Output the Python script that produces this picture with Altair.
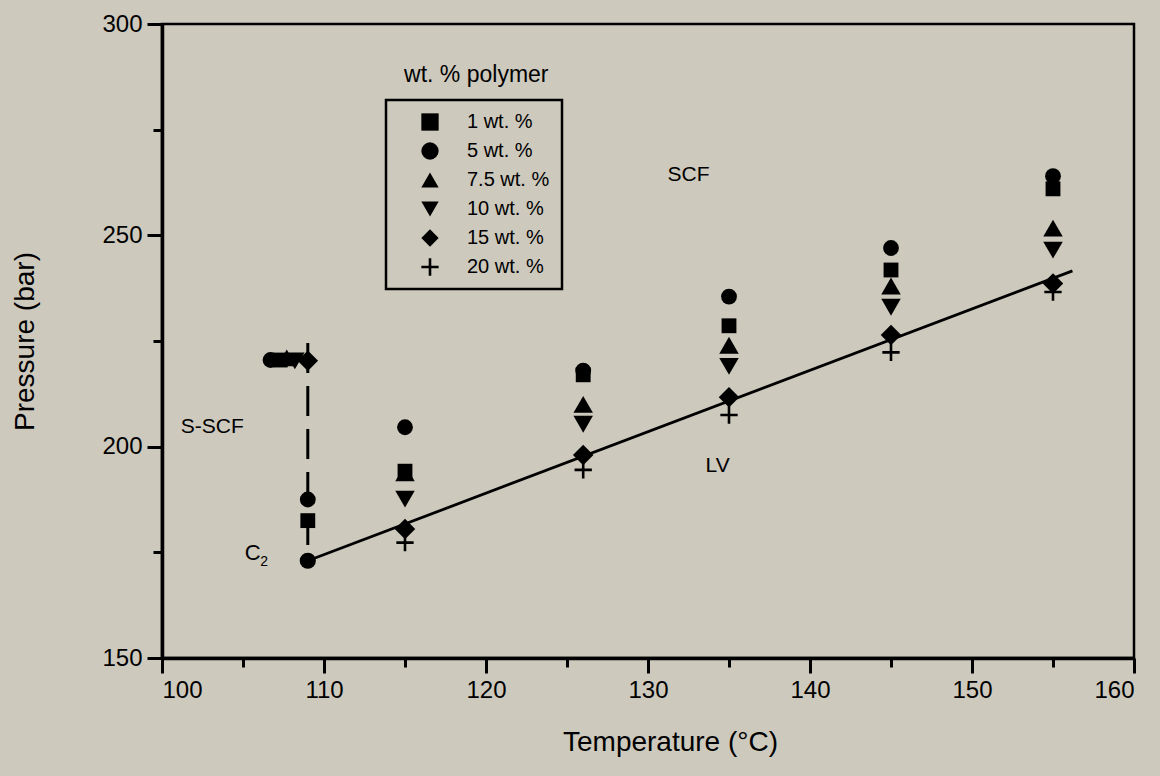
import altair as alt
import pandas as pd

# Cloud-point pressures (bar) vs temperature (°C) for each polymer loading
series_names = ["1 wt. %", "5 wt. %", "7.5 wt. %", "10 wt. %", "15 wt. %", "20 wt. %"]
# thin filled plus for the 20 wt. % series
PLUS = "M-1,-0.15H1V0.15H-1Z M-0.15,-1H0.15V1H-0.15Z"
series_shapes = ["square", "circle", "triangle-up", "triangle-down", "diamond", PLUS]
series_sizes = [220, 250, 380, 380, 420, 300]

t_1 = [107.3, 109, 115, 126, 135, 145, 155]
p_1 = [220.5, 182.5, 194.2, 217.0, 228.6, 241.8, 261.0]

t_5 = [106.7, 109, 115, 126, 135, 145, 155]
p_5 = [220.5, 187.5, 204.6, 218.0, 235.5, 247.0, 264.0]

t_75 = [107.7, 115, 126, 135, 145, 155]
p_75 = [221.0, 193.8, 210.0, 224.0, 238.0, 251.7]

t_10 = [108.2, 115, 126, 135, 145, 155]
p_10 = [220.3, 187.6, 205.3, 219.0, 233.0, 246.5]

t_15 = [109, 115, 126, 135, 145, 155]
p_15 = [220.3, 180.5, 198.0, 211.7, 226.4, 238.6]

t_20 = [115, 126, 135, 145, 155]
p_20 = [177.3, 194.5, 207.5, 222.3, 236.6]

# Critical point C2 and the LV boundary drawn from it
c2_t = [109]
c2_p = [173.0]
lv_t = [109, 156.2]
lv_p = [173.0, 241.6]

# Dashed vertical boundary at 109 °C
dash_t = [109]
dash_p_top = [224.5]
dash_p_bottom = [173.0]

# Region labels
region_text = ["SCF", "S-SCF", "LV"]
region_t = [132.5, 103.1, 134.3]
region_p = [264.3, 204.6, 195.4]

BG = "#cdc9bd"
FONT = "Liberation Sans"

rows = []
for name, sz, ts, ps in zip(
    series_names,
    series_sizes,
    [t_1, t_5, t_75, t_10, t_15, t_20],
    [p_1, p_5, p_75, p_10, p_15, p_20],
):
    for t, p in zip(ts, ps):
        rows.append({"series": name, "sz": sz, "T": t, "P": p})
points_df = pd.DataFrame(rows)

x_scale = alt.Scale(domain=[100, 160], nice=False, zero=False)
y_scale = alt.Scale(domain=[150, 300], nice=False, zero=False)

x_axis = alt.Axis(
    values=list(range(100, 161, 5)),
    labelExpr="datum.value % 10 === 0 ? datum.label : ''",
    tickSize={"condition": {"test": "datum.value % 10 === 0", "value": 15}, "value": 9},
    title="Temperature (°C)",
    titleFont=FONT, titleFontSize=28, titleFontWeight="normal", titleColor="black",
    titleX=508, titleY=84, titleBaseline="middle",
    labelFont=FONT, labelFontSize=24, labelColor="black", labelPadding=5,
    domainColor="black", domainWidth=3.5, tickColor="black", tickWidth=3,
    grid=False,
)
y_axis = alt.Axis(
    values=list(range(150, 301, 25)),
    labelExpr="datum.value % 50 === 0 ? datum.label : ''",
    tickSize={"condition": {"test": "datum.value % 50 === 0", "value": 15}, "value": 9},
    title="Pressure (bar)",
    titleFont=FONT, titleFontSize=28, titleFontWeight="normal", titleColor="black",
    titleX=-137, titleY=317, titleBaseline="middle", titleAngle=-90,
    labelFont=FONT, labelFontSize=24, labelColor="black", labelPadding=5,
    domainColor="black", domainWidth=3.5, tickColor="black", tickWidth=3,
    grid=False,
)

pts = alt.Chart(points_df).mark_point(filled=True, color="black", opacity=1).encode(
    x=alt.X("T:Q", scale=x_scale, axis=x_axis),
    y=alt.Y("P:Q", scale=y_scale, axis=y_axis),
    size=alt.Size("sz:Q", scale=None, legend=None),
    shape=alt.Shape(
        "series:N",
        scale=alt.Scale(domain=series_names, range=series_shapes),
        sort=series_names,
        legend=alt.Legend(
            title=None,
            orient="none",
            legendX=224,
            legendY=76,
            strokeColor="black",
            padding=12,
            symbolOffset=22,
            symbolSize=300,
            symbolFillColor="black",
            symbolStrokeColor="black",
            symbolStrokeWidth=0,
            labelFont=FONT,
            labelFontSize=20,
            labelColor="black",
            labelOffset=27,
            rowPadding=9,
        ),
    ),
)

line_df = pd.DataFrame({"T": lv_t, "P": lv_p})
lv_line = alt.Chart(line_df).mark_line(color="black", strokeWidth=2.8).encode(
    x=alt.X("T:Q", scale=x_scale), y=alt.Y("P:Q", scale=y_scale)
)

dash_df = pd.DataFrame({"T": dash_t, "P": dash_p_top, "P2": dash_p_bottom})
dash_rule = alt.Chart(dash_df).mark_rule(color="black", strokeWidth=3, strokeDash=[30, 13]).encode(
    x=alt.X("T:Q", scale=x_scale), y=alt.Y("P:Q", scale=y_scale), y2="P2:Q"
)

c2_df = pd.DataFrame({"T": c2_t, "P": c2_p})
c2_point = alt.Chart(c2_df).mark_point(filled=True, color="black", opacity=1, shape="circle", size=260).encode(
    x=alt.X("T:Q", scale=x_scale), y=alt.Y("P:Q", scale=y_scale)
)

c2_label = pd.DataFrame({"T": [105.6], "P": [174.8], "txt": ["C"]})
c2_sub = pd.DataFrame({"T": [106.3], "P": [172.6], "txt": ["2"]})
c2_text = alt.Chart(c2_label).mark_text(font=FONT, fontSize=22, color="black", baseline="middle").encode(
    x=alt.X("T:Q", scale=x_scale), y=alt.Y("P:Q", scale=y_scale), text="txt:N"
)
c2_subtext = alt.Chart(c2_sub).mark_text(font=FONT, fontSize=14, color="black", baseline="middle").encode(
    x=alt.X("T:Q", scale=x_scale), y=alt.Y("P:Q", scale=y_scale), text="txt:N"
)

region_df = pd.DataFrame({"T": region_t, "P": region_p, "txt": region_text})
regions = alt.Chart(region_df).mark_text(font=FONT, fontSize=21, color="black", baseline="middle").encode(
    x=alt.X("T:Q", scale=x_scale), y=alt.Y("P:Q", scale=y_scale), text="txt:N"
)

legend_title_df = pd.DataFrame({"T": [119.4], "P": [287.9], "txt": ["wt. % polymer"]})
legend_title = alt.Chart(legend_title_df).mark_text(font=FONT, fontSize=23, color="black", baseline="middle").encode(
    x=alt.X("T:Q", scale=x_scale), y=alt.Y("P:Q", scale=y_scale), text="txt:N"
)

chart = (
    alt.layer(lv_line, dash_rule, pts, c2_point, c2_text, c2_subtext, regions, legend_title)
    .properties(
        width=972,
        height=634,
        background=BG,
        padding={"left": 162, "top": 24, "right": 26, "bottom": 118},
        autosize=alt.AutoSizeParams(type="none"),
    )
    .configure_view(stroke="black", strokeWidth=2.5, fill=BG)
    .configure_legend(strokeWidth=2.5)
)

chart.save("out.html", embed_options={"renderer": "svg", "actions": False})
